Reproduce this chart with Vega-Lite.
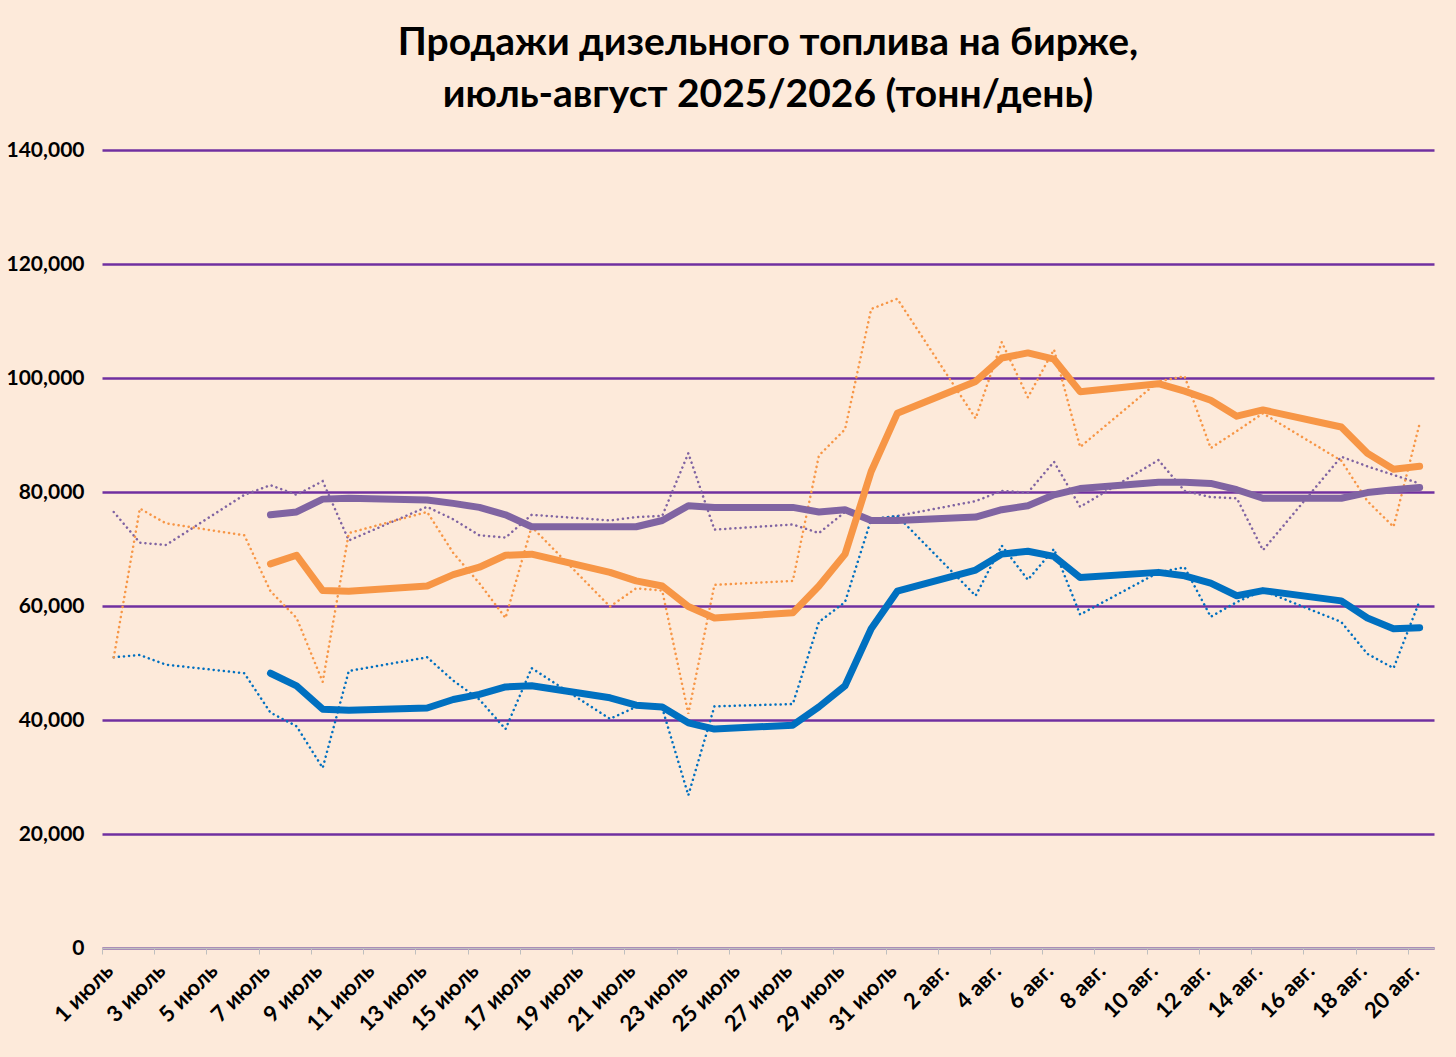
{
  "$schema": "https://vega.github.io/schema/vega-lite/v6.json",
  "width": 1456,
  "height": 1057,
  "autosize": {"type": "fit", "contains": "padding"},
  "padding": {"left": 6, "top": 24, "right": 22, "bottom": 22},
  "background": "#FDEADA",
  "config": {
    "view": {"stroke": null},
    "font": "Lato",
    "title": {"fontSize": 39, "fontWeight": "bold", "color": "#000000", "lineHeight": 52, "offset": 24}
  },
  "title": {"text": ["Продажи дизельного топлива на бирже,", "июль-август 2025/2026 (тонн/день)"], "anchor": "middle"},
  "datasets": {
    "smooth": [
      {"n": 6, "s": "Продажи 2025 сглаженые", "v": 76000}, {"n": 7, "s": "Продажи 2025 сглаженые", "v": 76500}, {"n": 8, "s": "Продажи 2025 сглаженые", "v": 78750}, {"n": 9, "s": "Продажи 2025 сглаженые", "v": 78900}, {"n": 12, "s": "Продажи 2025 сглаженые", "v": 78600}, {"n": 13, "s": "Продажи 2025 сглаженые", "v": 78000}, {"n": 14, "s": "Продажи 2025 сглаженые", "v": 77300}, {"n": 15, "s": "Продажи 2025 сглаженые", "v": 76000}, {"n": 16, "s": "Продажи 2025 сглаженые", "v": 73900}, {"n": 19, "s": "Продажи 2025 сглаженые", "v": 73900}, {"n": 20, "s": "Продажи 2025 сглаженые", "v": 73900}, {"n": 21, "s": "Продажи 2025 сглаженые", "v": 75000}, {"n": 22, "s": "Продажи 2025 сглаженые", "v": 77600}, {"n": 23, "s": "Продажи 2025 сглаженые", "v": 77300}, {"n": 26, "s": "Продажи 2025 сглаженые", "v": 77300}, {"n": 27, "s": "Продажи 2025 сглаженые", "v": 76500}, {"n": 28, "s": "Продажи 2025 сглаженые", "v": 76900}, {"n": 29, "s": "Продажи 2025 сглаженые", "v": 75000}, {"n": 30, "s": "Продажи 2025 сглаженые", "v": 75000}, {"n": 33, "s": "Продажи 2025 сглаженые", "v": 75600}, {"n": 34, "s": "Продажи 2025 сглаженые", "v": 76900}, {"n": 35, "s": "Продажи 2025 сглаженые", "v": 77600}, {"n": 36, "s": "Продажи 2025 сглаженые", "v": 79500}, {"n": 37, "s": "Продажи 2025 сглаженые", "v": 80600}, {"n": 40, "s": "Продажи 2025 сглаженые", "v": 81700}, {"n": 41, "s": "Продажи 2025 сглаженые", "v": 81700}, {"n": 42, "s": "Продажи 2025 сглаженые", "v": 81500}, {"n": 43, "s": "Продажи 2025 сглаженые", "v": 80400}, {"n": 44, "s": "Продажи 2025 сглаженые", "v": 78900}, {"n": 47, "s": "Продажи 2025 сглаженые", "v": 78900}, {"n": 48, "s": "Продажи 2025 сглаженые", "v": 79900}, {"n": 49, "s": "Продажи 2025 сглаженые", "v": 80400}, {"n": 50, "s": "Продажи 2025 сглаженые", "v": 80800},
      {"n": 6, "s": "Продажи 2026 сглаженые", "v": 48200}, {"n": 7, "s": "Продажи 2026 сглаженые", "v": 46000}, {"n": 8, "s": "Продажи 2026 сглаженые", "v": 41900}, {"n": 9, "s": "Продажи 2026 сглаженые", "v": 41700}, {"n": 12, "s": "Продажи 2026 сглаженые", "v": 42100}, {"n": 13, "s": "Продажи 2026 сглаженые", "v": 43600}, {"n": 14, "s": "Продажи 2026 сглаженые", "v": 44500}, {"n": 15, "s": "Продажи 2026 сглаженые", "v": 45800}, {"n": 16, "s": "Продажи 2026 сглаженые", "v": 46000}, {"n": 19, "s": "Продажи 2026 сглаженые", "v": 43900}, {"n": 20, "s": "Продажи 2026 сглаженые", "v": 42600}, {"n": 21, "s": "Продажи 2026 сглаженые", "v": 42300}, {"n": 22, "s": "Продажи 2026 сглаженые", "v": 39500}, {"n": 23, "s": "Продажи 2026 сглаженые", "v": 38400}, {"n": 26, "s": "Продажи 2026 сглаженые", "v": 39100}, {"n": 27, "s": "Продажи 2026 сглаженые", "v": 42300}, {"n": 28, "s": "Продажи 2026 сглаженые", "v": 46000}, {"n": 29, "s": "Продажи 2026 сглаженые", "v": 56000}, {"n": 30, "s": "Продажи 2026 сглаженые", "v": 62600}, {"n": 33, "s": "Продажи 2026 сглаженые", "v": 66300}, {"n": 34, "s": "Продажи 2026 сглаженые", "v": 69100}, {"n": 35, "s": "Продажи 2026 сглаженые", "v": 69600}, {"n": 36, "s": "Продажи 2026 сглаженые", "v": 68700}, {"n": 37, "s": "Продажи 2026 сглаженые", "v": 65000}, {"n": 40, "s": "Продажи 2026 сглаженые", "v": 65900}, {"n": 41, "s": "Продажи 2026 сглаженые", "v": 65300}, {"n": 42, "s": "Продажи 2026 сглаженые", "v": 64000}, {"n": 43, "s": "Продажи 2026 сглаженые", "v": 61800}, {"n": 44, "s": "Продажи 2026 сглаженые", "v": 62700}, {"n": 47, "s": "Продажи 2026 сглаженые", "v": 60900}, {"n": 48, "s": "Продажи 2026 сглаженые", "v": 57900}, {"n": 49, "s": "Продажи 2026 сглаженые", "v": 56000}, {"n": 50, "s": "Продажи 2026 сглаженые", "v": 56200},
      {"n": 6, "s": "Продажи 2026 скорректированные", "v": 67400}, {"n": 7, "s": "Продажи 2026 скорректированные", "v": 68900}, {"n": 8, "s": "Продажи 2026 скорректированные", "v": 62700}, {"n": 9, "s": "Продажи 2026 скорректированные", "v": 62600}, {"n": 12, "s": "Продажи 2026 скорректированные", "v": 63500}, {"n": 13, "s": "Продажи 2026 скорректированные", "v": 65500}, {"n": 14, "s": "Продажи 2026 скорректированные", "v": 66800}, {"n": 15, "s": "Продажи 2026 скорректированные", "v": 68900}, {"n": 16, "s": "Продажи 2026 скорректированные", "v": 69100}, {"n": 19, "s": "Продажи 2026 скорректированные", "v": 65900}, {"n": 20, "s": "Продажи 2026 скорректированные", "v": 64400}, {"n": 21, "s": "Продажи 2026 скорректированные", "v": 63500}, {"n": 22, "s": "Продажи 2026 скорректированные", "v": 59900}, {"n": 23, "s": "Продажи 2026 скорректированные", "v": 57900}, {"n": 26, "s": "Продажи 2026 скорректированные", "v": 58800}, {"n": 27, "s": "Продажи 2026 скорректированные", "v": 63500}, {"n": 28, "s": "Продажи 2026 скорректированные", "v": 69100}, {"n": 29, "s": "Продажи 2026 скорректированные", "v": 83600}, {"n": 30, "s": "Продажи 2026 скорректированные", "v": 93800}, {"n": 33, "s": "Продажи 2026 скорректированные", "v": 99400}, {"n": 34, "s": "Продажи 2026 скорректированные", "v": 103500}, {"n": 35, "s": "Продажи 2026 скорректированные", "v": 104400}, {"n": 36, "s": "Продажи 2026 скорректированные", "v": 103300}, {"n": 37, "s": "Продажи 2026 скорректированные", "v": 97600}, {"n": 40, "s": "Продажи 2026 скорректированные", "v": 99000}, {"n": 41, "s": "Продажи 2026 скорректированные", "v": 97700}, {"n": 42, "s": "Продажи 2026 скорректированные", "v": 96100}, {"n": 43, "s": "Продажи 2026 скорректированные", "v": 93300}, {"n": 44, "s": "Продажи 2026 скорректированные", "v": 94400}, {"n": 47, "s": "Продажи 2026 скорректированные", "v": 91400}, {"n": 48, "s": "Продажи 2026 скорректированные", "v": 86800}, {"n": 49, "s": "Продажи 2026 скорректированные", "v": 84000}, {"n": 50, "s": "Продажи 2026 скорректированные", "v": 84500}
    ],
    "raw": [
      {"n": 0, "s": "Продажи 2025 сглаженые", "v": 76500}, {"n": 1, "s": "Продажи 2025 сглаженые", "v": 71100}, {"n": 2, "s": "Продажи 2025 сглаженые", "v": 70700}, {"n": 5, "s": "Продажи 2025 сглаженые", "v": 79500}, {"n": 6, "s": "Продажи 2025 сглаженые", "v": 81200}, {"n": 7, "s": "Продажи 2025 сглаженые", "v": 79500}, {"n": 8, "s": "Продажи 2025 сглаженые", "v": 81900}, {"n": 9, "s": "Продажи 2025 сглаженые", "v": 71500}, {"n": 12, "s": "Продажи 2025 сглаженые", "v": 77400}, {"n": 13, "s": "Продажи 2025 сглаженые", "v": 75200}, {"n": 14, "s": "Продажи 2025 сглаженые", "v": 72400}, {"n": 15, "s": "Продажи 2025 сглаженые", "v": 72000}, {"n": 16, "s": "Продажи 2025 сглаженые", "v": 76000}, {"n": 19, "s": "Продажи 2025 сглаженые", "v": 75000}, {"n": 20, "s": "Продажи 2025 сглаженые", "v": 75600}, {"n": 21, "s": "Продажи 2025 сглаженые", "v": 75800}, {"n": 22, "s": "Продажи 2025 сглаженые", "v": 86800}, {"n": 23, "s": "Продажи 2025 сглаженые", "v": 73400}, {"n": 26, "s": "Продажи 2025 сглаженые", "v": 74300}, {"n": 27, "s": "Продажи 2025 сглаженые", "v": 72800}, {"n": 28, "s": "Продажи 2025 сглаженые", "v": 76500}, {"n": 29, "s": "Продажи 2025 сглаженые", "v": 75200}, {"n": 30, "s": "Продажи 2025 сглаженые", "v": 75800}, {"n": 33, "s": "Продажи 2025 сглаженые", "v": 78400}, {"n": 34, "s": "Продажи 2025 сглаженые", "v": 80200}, {"n": 35, "s": "Продажи 2025 сглаженые", "v": 79900}, {"n": 36, "s": "Продажи 2025 сглаженые", "v": 85300}, {"n": 37, "s": "Продажи 2025 сглаженые", "v": 77400}, {"n": 40, "s": "Продажи 2025 сглаженые", "v": 85600}, {"n": 41, "s": "Продажи 2025 сглаженые", "v": 80200}, {"n": 42, "s": "Продажи 2025 сглаженые", "v": 79100}, {"n": 43, "s": "Продажи 2025 сглаженые", "v": 78900}, {"n": 44, "s": "Продажи 2025 сглаженые", "v": 69800}, {"n": 47, "s": "Продажи 2025 сглаженые", "v": 86200}, {"n": 48, "s": "Продажи 2025 сглаженые", "v": 84500}, {"n": 49, "s": "Продажи 2025 сглаженые", "v": 83000}, {"n": 50, "s": "Продажи 2025 сглаженые", "v": 81500},
      {"n": 0, "s": "Продажи 2026 сглаженые", "v": 51000}, {"n": 1, "s": "Продажи 2026 сглаженые", "v": 51400}, {"n": 2, "s": "Продажи 2026 сглаженые", "v": 49700}, {"n": 5, "s": "Продажи 2026 сглаженые", "v": 48200}, {"n": 6, "s": "Продажи 2026 сглаженые", "v": 41300}, {"n": 7, "s": "Продажи 2026 сглаженые", "v": 38900}, {"n": 8, "s": "Продажи 2026 сглаженые", "v": 31600}, {"n": 9, "s": "Продажи 2026 сглаженые", "v": 48600}, {"n": 12, "s": "Продажи 2026 сглаженые", "v": 51000}, {"n": 13, "s": "Продажи 2026 сглаженые", "v": 46900}, {"n": 14, "s": "Продажи 2026 сглаженые", "v": 43600}, {"n": 15, "s": "Продажи 2026 сглаженые", "v": 38400}, {"n": 16, "s": "Продажи 2026 сглаженые", "v": 49100}, {"n": 19, "s": "Продажи 2026 сглаженые", "v": 40200}, {"n": 20, "s": "Продажи 2026 сглаженые", "v": 42300}, {"n": 21, "s": "Продажи 2026 сглаженые", "v": 42100}, {"n": 22, "s": "Продажи 2026 сглаженые", "v": 26800}, {"n": 23, "s": "Продажи 2026 сглаженые", "v": 42400}, {"n": 26, "s": "Продажи 2026 сглаженые", "v": 42800}, {"n": 27, "s": "Продажи 2026 сглаженые", "v": 57200}, {"n": 28, "s": "Продажи 2026 сглаженые", "v": 60700}, {"n": 29, "s": "Продажи 2026 сглаженые", "v": 75200}, {"n": 30, "s": "Продажи 2026 сглаженые", "v": 75800}, {"n": 33, "s": "Продажи 2026 сглаженые", "v": 61800}, {"n": 34, "s": "Продажи 2026 сглаженые", "v": 70600}, {"n": 35, "s": "Продажи 2026 сглаженые", "v": 64600}, {"n": 36, "s": "Продажи 2026 сглаженые", "v": 70000}, {"n": 37, "s": "Продажи 2026 сглаженые", "v": 58500}, {"n": 40, "s": "Продажи 2026 сглаженые", "v": 65900}, {"n": 41, "s": "Продажи 2026 сглаженые", "v": 66800}, {"n": 42, "s": "Продажи 2026 сглаженые", "v": 58100}, {"n": 43, "s": "Продажи 2026 сглаженые", "v": 60700}, {"n": 44, "s": "Продажи 2026 сглаженые", "v": 62700}, {"n": 47, "s": "Продажи 2026 сглаженые", "v": 57200}, {"n": 48, "s": "Продажи 2026 сглаженые", "v": 51600}, {"n": 49, "s": "Продажи 2026 сглаженые", "v": 49100}, {"n": 50, "s": "Продажи 2026 сглаженые", "v": 60900},
      {"n": 0, "s": "Продажи 2026 скорректированные", "v": 51000}, {"n": 1, "s": "Продажи 2026 скорректированные", "v": 77100}, {"n": 2, "s": "Продажи 2026 скорректированные", "v": 74500}, {"n": 5, "s": "Продажи 2026 скорректированные", "v": 72400}, {"n": 6, "s": "Продажи 2026 скорректированные", "v": 62600}, {"n": 7, "s": "Продажи 2026 скорректированные", "v": 57900}, {"n": 8, "s": "Продажи 2026 скорректированные", "v": 46700}, {"n": 9, "s": "Продажи 2026 скорректированные", "v": 72800}, {"n": 12, "s": "Продажи 2026 скорректированные", "v": 76500}, {"n": 13, "s": "Продажи 2026 скорректированные", "v": 69300}, {"n": 14, "s": "Продажи 2026 скорректированные", "v": 64000}, {"n": 15, "s": "Продажи 2026 скорректированные", "v": 57900}, {"n": 16, "s": "Продажи 2026 скорректированные", "v": 73900}, {"n": 19, "s": "Продажи 2026 скорректированные", "v": 59900}, {"n": 20, "s": "Продажи 2026 скорректированные", "v": 63100}, {"n": 21, "s": "Продажи 2026 скорректированные", "v": 62700}, {"n": 22, "s": "Продажи 2026 скорректированные", "v": 41100}, {"n": 23, "s": "Продажи 2026 скорректированные", "v": 63700}, {"n": 26, "s": "Продажи 2026 скорректированные", "v": 64400}, {"n": 27, "s": "Продажи 2026 скорректированные", "v": 86400}, {"n": 28, "s": "Продажи 2026 скорректированные", "v": 91000}, {"n": 29, "s": "Продажи 2026 скорректированные", "v": 112100}, {"n": 30, "s": "Продажи 2026 скорректированные", "v": 113900}, {"n": 33, "s": "Продажи 2026 скорректированные", "v": 92900}, {"n": 34, "s": "Продажи 2026 скорректированные", "v": 106300}, {"n": 35, "s": "Продажи 2026 скорректированные", "v": 96600}, {"n": 36, "s": "Продажи 2026 скорректированные", "v": 105000}, {"n": 37, "s": "Продажи 2026 скорректированные", "v": 87900}, {"n": 40, "s": "Продажи 2026 скорректированные", "v": 99400}, {"n": 41, "s": "Продажи 2026 скорректированные", "v": 100300}, {"n": 42, "s": "Продажи 2026 скорректированные", "v": 87700}, {"n": 43, "s": "Продажи 2026 скорректированные", "v": 90700}, {"n": 44, "s": "Продажи 2026 скорректированные", "v": 93800}, {"n": 47, "s": "Продажи 2026 скорректированные", "v": 85500}, {"n": 48, "s": "Продажи 2026 скорректированные", "v": 78400}, {"n": 49, "s": "Продажи 2026 скорректированные", "v": 73900}, {"n": 50, "s": "Продажи 2026 скорректированные", "v": 92000}
    ]
  },
  "encoding": {
    "x": {
      "field": "n",
      "type": "quantitative",
      "scale": {"domain": [-0.45, 50.55], "nice": false, "zero": false},
      "axis": {
        "title": null,
        "grid": false,
        "values": [-0.45, 1.55, 3.55, 5.55, 7.55, 9.55, 11.55, 13.55, 15.55, 17.55, 19.55, 21.55, 23.55, 25.55, 27.55, 29.55, 31.55, 33.55, 35.55, 37.55, 39.55, 41.55, 43.55, 45.55, 47.55, 49.55],
        "labelExpr": "round(datum.value + 1.45) <= 31 ? round(datum.value + 1.45) + ' июль' : (round(datum.value + 1.45) - 31) + ' авг.'",
        "labelAngle": -45,
        "labelAlign": "right",
        "labelBaseline": "top",
        "labelFontSize": 22,
        "labelFontWeight": "bold",
        "labelColor": "#000000",
        "labelPadding": 6,
        "domainColor": "#BFBFBF",
        "domainWidth": 2,
        "tickColor": "#BFBFBF",
        "tickSize": 6,
        "labelOverlap": false
      }
    },
    "y": {
      "field": "v",
      "type": "quantitative",
      "scale": {"domain": [0, 140000]},
      "axis": {
        "title": null,
        "values": [0, 20000, 40000, 60000, 80000, 100000, 120000, 140000],
        "format": ",.0f",
        "domain": false,
        "ticks": false,
        "gridColor": "#7030A0",
        "gridWidth": 2.5,
        "gridOpacity": 1,
        "labelFontSize": 21,
        "labelFontWeight": "bold",
        "labelColor": "#000000",
        "labelPadding": 18
      }
    },
    "color": {
      "field": "s",
      "type": "nominal",
      "scale": {
        "domain": ["Продажи 2025 сглаженые", "Продажи 2026 сглаженые", "Продажи 2026 скорректированные"],
        "range": ["#8064A2", "#0070C0", "#F79646"]
      },
      "legend": {
        "title": null,
        "orient": "none",
        "legendX": 62,
        "legendY": 18,
        "symbolType": "stroke",
        "symbolStrokeWidth": 6,
        "symbolSize": 2200,
        "labelFontSize": 26,
        "labelFontWeight": "bold",
        "labelColor": "#000000",
        "rowPadding": 28,
        "labelOffset": 4,
        "labelLimit": 700
      }
    }
  },
  "layer": [
    {
      "data": {"name": "raw"},
      "mark": {"type": "line", "strokeWidth": 2.5, "strokeDash": [0.1, 5], "strokeCap": "round"},
      "encoding": {"color": {"field": "s", "type": "nominal", "legend": null}}
    },
    {
      "data": {"name": "smooth"},
      "mark": {"type": "line", "strokeWidth": 7, "strokeCap": "round", "strokeJoin": "round"}
    }
  ]
}
